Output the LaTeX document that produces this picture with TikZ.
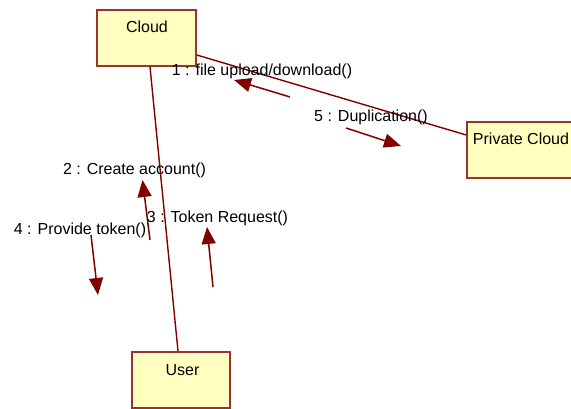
\documentclass[tikz,border=0pt]{standalone}
\usepackage{fontspec}
\setmainfont{Liberation Sans}
\usetikzlibrary{arrows.meta,calc}
\definecolor{umlline}{HTML}{800000}
\definecolor{umlborder}{HTML}{993333}
\definecolor{umlfill}{HTML}{FFFFC0}
\tikzset{
  box/.style={draw=umlborder, fill=umlfill, line width=1.6pt, rectangle, inner sep=0pt, minimum height=56pt},
  boxlabel/.style={anchor=base, inner sep=0pt, font=\fontsize{16}{18}\selectfont},
  link/.style={draw=umlline, line width=1.4pt},
  msg/.style={draw=umlline, line width=1.5pt, -{Triangle[length=17pt,width=14pt]}},
  msglabel/.style={anchor=base, inner sep=0pt, font=\fontsize{16}{18}\selectfont},
}
\begin{document}
\begin{tikzpicture}[x=1pt,y=-1pt]
\useasboundingbox (0,0) rectangle (571,409);
\node[box, minimum width=99pt] (cloud) at (146.5,38) {};
\node[boxlabel] (cloudlbl) at (147,33) {Cloud};
\node[box, minimum width=110pt] (private) at (522,150) {};
\node[boxlabel] (privatelbl) at (521,145) {Private Cloud};
\node[box, minimum width=98pt] (user) at (181,380) {};
\node[boxlabel] (userlbl) at (182.5,375) {User};
% links
\draw[link] ($(cloud.south)+(3.5,0)$) -- ($(user.north)+(-3,0)$);
\draw[link] ($(cloud.east)+(0,17)$) -- ($(private.west)+(0,-15)$);
% messages
\coordinate (m1s) at (290,97); \coordinate (m1e) at (234,80);
\draw[msg] (m1s) -- (m1e);
\node[msglabel] (l1) at (262,76) {1 : file upload/download()};
\coordinate (m5s) at (346,128); \coordinate (m5e) at (401,146);
\draw[msg] (m5s) -- (m5e);
\node[msglabel] (l5) at (371,121.5) {5 : Duplication()};
\coordinate (m2s) at (150,240); \coordinate (m2e) at (142.5,180);
\draw[msg] (m2s) -- (m2e);
\node[msglabel] (l2) at (134.5,175) {2 : Create account()};
\coordinate (m4s) at (91,235); \coordinate (m4e) at (98,295);
\draw[msg] (m4s) -- (m4e);
\node[msglabel] (l4) at (80,235) {4 : Provide token()};
\coordinate (m3s) at (213,287); \coordinate (m3e) at (207,227);
\draw[msg] (m3s) -- (m3e);
\node[msglabel] (l3) at (217.5,223) {3 : Token Request()};
\end{tikzpicture}
\end{document}
